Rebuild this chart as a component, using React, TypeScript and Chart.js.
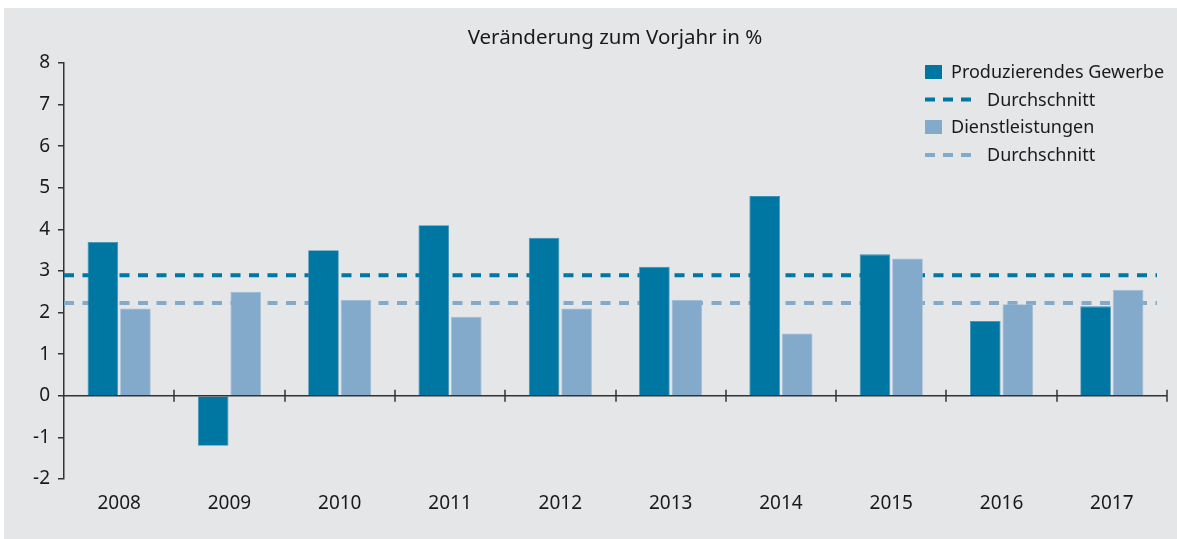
import React, { useEffect, useRef } from "react";
import { Chart, registerables } from "chart.js";

Chart.register(...registerables);

const categories = ["2008", "2009", "2010", "2011", "2012", "2013", "2014", "2015", "2016", "2017"];
const produzierendesGewerbe = [3.7, -1.2, 3.5, 4.1, 3.8, 3.1, 4.8, 3.4, 1.8, 2.15];
const dienstleistungen = [2.1, 2.5, 2.3, 1.9, 2.1, 2.3, 1.5, 3.3, 2.2, 2.55];
const durchschnittProduzierend = 2.9;
const durchschnittDienst = 2.23;
const yMin = -2;
const yMax = 8;

const title = "Veränderung zum Vorjahr in %";
const legendLabels = ["Produzierendes Gewerbe", "Durchschnitt", "Dienstleistungen", "Durchschnitt"];

const DARK = "#0076a3";
const LIGHT = "#84aacb";
const BG = "#e5e6e8";
const AXIS = "#333333";
const TEXT = "#1a1a1a";
const FONT = "'Noto Sans', 'Open Sans', sans-serif";

const overlayPlugin = {
  id: "overlay",
  beforeDraw(chart: any) {
    const ctx = chart.ctx;
    ctx.save();
    ctx.fillStyle = "#ffffff";
    ctx.fillRect(0, 0, chart.width, chart.height);
    ctx.fillStyle = BG;
    ctx.fillRect(4, 8, chart.width - 4, chart.height - 8);
    ctx.restore();
  },
  beforeDatasetsDraw(chart: any) {
    const ctx = chart.ctx;
    const { left, right } = chart.chartArea;
    const y = chart.scales.y;
    ctx.save();
    ctx.lineWidth = 4;
    ctx.setLineDash([10, 8.5]);
    [
      [durchschnittProduzierend, DARK],
      [durchschnittDienst, LIGHT],
    ].forEach(([v, c]: any) => {
      const py = y.getPixelForValue(v);
      ctx.strokeStyle = c;
      ctx.beginPath();
      ctx.moveTo(left, py);
      ctx.lineTo(right - 10, py);
      ctx.stroke();
    });
    ctx.restore();
  },
  afterDatasetsDraw(chart: any) {
    const ctx = chart.ctx;
    const { left, right } = chart.chartArea;
    const y = chart.scales.y;
    const py = y.getPixelForValue(0);
    ctx.save();
    ctx.strokeStyle = AXIS;
    ctx.lineWidth = 1.5;
    ctx.beginPath();
    ctx.moveTo(left, py);
    ctx.lineTo(right, py);
    ctx.stroke();
    const n = categories.length;
    const w = (right - left) / n;
    for (let i = 1; i <= n; i++) {
      const px = Math.round(left + i * w);
      ctx.beginPath();
      ctx.moveTo(px, py - 6);
      ctx.lineTo(px, py + 6);
      ctx.stroke();
    }
    ctx.restore();
  },
  afterDraw(chart: any) {
    const ctx = chart.ctx;
    ctx.save();
    ctx.fillStyle = TEXT;
    ctx.font = `20.5px ${FONT}`;
    ctx.textAlign = "center";
    ctx.textBaseline = "middle";
    ctx.fillText(title, 615, 38);

    const rows = [72, 99.5, 127, 155];
    const colors = [DARK, DARK, LIGHT, LIGHT];
    ctx.font = `18px ${FONT}`;
    ctx.textAlign = "left";
    rows.forEach((ry, i) => {
      ctx.fillStyle = colors[i];
      ctx.strokeStyle = colors[i];
      let tx;
      if (i % 2 === 0) {
        ctx.fillRect(925, ry - 7, 17, 14);
        tx = 951;
      } else {
        ctx.lineWidth = 4;
        ctx.setLineDash([10, 8]);
        ctx.beginPath();
        ctx.moveTo(925, ry);
        ctx.lineTo(973, ry);
        ctx.stroke();
        ctx.setLineDash([]);
        tx = 987;
      }
      ctx.fillStyle = TEXT;
      ctx.fillText(legendLabels[i], tx, ry + 1);
    });
    ctx.restore();
  },
};

export default function App() {
  const ref = useRef<HTMLCanvasElement | null>(null);
  useEffect(() => {
    if (!ref.current) return;
    const chart = new Chart(ref.current, {
      type: "bar",
      data: {
        labels: categories,
        datasets: [
          {
            label: legendLabels[0],
            data: produzierendesGewerbe,
            backgroundColor: DARK,
            borderColor: "#3d8fb5",
            borderWidth: 0.8,
            categoryPercentage: 0.59,
            barPercentage: 0.94,
          },
          {
            label: legendLabels[2],
            data: dienstleistungen,
            backgroundColor: LIGHT,
            borderColor: "#a0bdd7",
            borderWidth: 0.8,
            categoryPercentage: 0.59,
            barPercentage: 0.94,
          },
        ],
      },
      options: {
        responsive: false,
        maintainAspectRatio: false,
        animation: false,
        layout: { padding: { top: 63, right: 10, left: 0, bottom: 0 } },
        plugins: {
          legend: { display: false },
          title: { display: false },
          tooltip: { enabled: false },
        },
        scales: {
          x: {
            offset: true,
            grid: { display: false, drawTicks: false },
            border: { display: false },
            ticks: { color: TEXT, font: { family: FONT, size: 19 }, padding: 13 },
            afterFit(s: any) {
              s.height = 60;
            },
          },
          y: {
            min: yMin,
            max: yMax,
            ticks: {
              stepSize: 1,
              color: TEXT,
              font: { family: FONT, size: 19 },
              padding: 8,
              callback: (v: any) => String(v),
            },
            grid: {
              drawOnChartArea: false,
              drawTicks: true,
              tickLength: 6,
              color: AXIS,
              lineWidth: 1.5,
            },
            border: { display: true, color: AXIS, width: 1.5 },
            afterFit(s: any) {
              s.width = 64;
            },
          },
        },
      },
      plugins: [overlayPlugin],
    });
    return () => chart.destroy();
  }, []);
  return (
    <div style={{ position: "absolute", left: 0, top: 0, width: 1177, height: 539 }}>
      <canvas ref={ref} width={1177} height={539} style={{ width: 1177, height: 539 }} />
    </div>
  );
}
